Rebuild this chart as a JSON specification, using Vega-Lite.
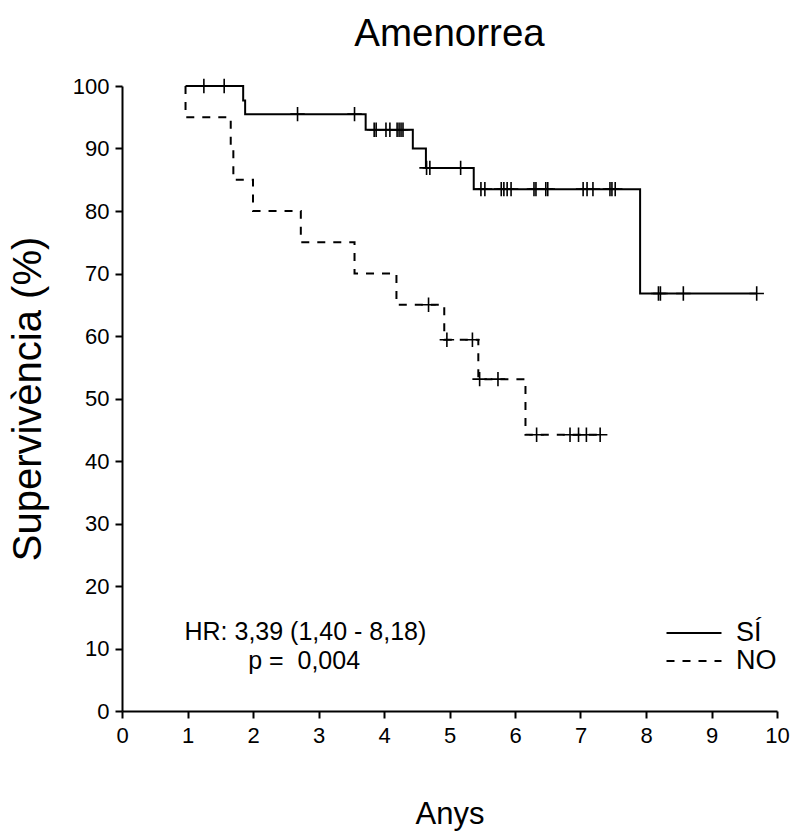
{
  "$schema": "https://vega.github.io/schema/vega-lite/v6.json",
  "autosize": "none",
  "width": 655,
  "height": 625,
  "padding": {"left": 122, "top": 86, "right": 20, "bottom": 121},
  "background": "white",
  "config": {
    "font": "Liberation Sans",
    "view": {"stroke": null},
    "axis": {"grid": false, "labelFlush": false, "domainColor": "black", "domainWidth": 2, "tickColor": "black", "tickWidth": 2, "tickSize": 7, "labelColor": "black", "labelFontSize": 22, "titleColor": "black", "titleFontWeight": "normal", "labelFont": "Liberation Sans", "titleFont": "Liberation Sans"}
  },
  "title": {"text": "Amenorrea", "fontSize": 38.5, "fontWeight": "normal", "color": "black", "offset": 21, "font": "Liberation Sans"},
  "datasets": {
    "curves": [
      {"g": "SÍ", "t": 0.97, "s": 100},
      {"g": "SÍ", "t": 1.85, "s": 97.7},
      {"g": "SÍ", "t": 1.88, "s": 95.5},
      {"g": "SÍ", "t": 3.72, "s": 93.0},
      {"g": "SÍ", "t": 4.44, "s": 90.0},
      {"g": "SÍ", "t": 4.64, "s": 86.9},
      {"g": "SÍ", "t": 5.37, "s": 83.5},
      {"g": "SÍ", "t": 7.91, "s": 66.8},
      {"g": "SÍ", "t": 9.69, "s": 66.8},
      {"g": "NO", "t": 0.97, "s": 100},
      {"g": "NO", "t": 0.97, "s": 95},
      {"g": "NO", "t": 1.66, "s": 90},
      {"g": "NO", "t": 1.70, "s": 85},
      {"g": "NO", "t": 2.00, "s": 80},
      {"g": "NO", "t": 2.73, "s": 75},
      {"g": "NO", "t": 3.55, "s": 70},
      {"g": "NO", "t": 4.19, "s": 65},
      {"g": "NO", "t": 4.92, "s": 59.4},
      {"g": "NO", "t": 5.44, "s": 53.1},
      {"g": "NO", "t": 6.16, "s": 44.2},
      {"g": "NO", "t": 7.32, "s": 44.2}
    ],
    "censored": [
      {"g": "SÍ", "t": 1.25, "s": 100},
      {"g": "SÍ", "t": 1.56, "s": 100},
      {"g": "SÍ", "t": 2.68, "s": 95.5},
      {"g": "SÍ", "t": 3.55, "s": 95.5},
      {"g": "SÍ", "t": 3.85, "s": 93.0},
      {"g": "SÍ", "t": 3.88, "s": 93.0},
      {"g": "SÍ", "t": 4.03, "s": 93.0},
      {"g": "SÍ", "t": 4.09, "s": 93.0},
      {"g": "SÍ", "t": 4.20, "s": 93.0},
      {"g": "SÍ", "t": 4.23, "s": 93.0},
      {"g": "SÍ", "t": 4.26, "s": 93.0},
      {"g": "SÍ", "t": 4.29, "s": 93.0},
      {"g": "SÍ", "t": 4.65, "s": 86.9},
      {"g": "SÍ", "t": 4.70, "s": 86.9},
      {"g": "SÍ", "t": 5.17, "s": 86.9},
      {"g": "SÍ", "t": 5.48, "s": 83.5},
      {"g": "SÍ", "t": 5.54, "s": 83.5},
      {"g": "SÍ", "t": 5.79, "s": 83.5},
      {"g": "SÍ", "t": 5.83, "s": 83.5},
      {"g": "SÍ", "t": 5.88, "s": 83.5},
      {"g": "SÍ", "t": 5.94, "s": 83.5},
      {"g": "SÍ", "t": 6.29, "s": 83.5},
      {"g": "SÍ", "t": 6.32, "s": 83.5},
      {"g": "SÍ", "t": 6.47, "s": 83.5},
      {"g": "SÍ", "t": 6.50, "s": 83.5},
      {"g": "SÍ", "t": 7.04, "s": 83.5},
      {"g": "SÍ", "t": 7.10, "s": 83.5},
      {"g": "SÍ", "t": 7.19, "s": 83.5},
      {"g": "SÍ", "t": 7.45, "s": 83.5},
      {"g": "SÍ", "t": 7.48, "s": 83.5},
      {"g": "SÍ", "t": 7.53, "s": 83.5},
      {"g": "SÍ", "t": 8.19, "s": 66.8},
      {"g": "SÍ", "t": 8.22, "s": 66.8},
      {"g": "SÍ", "t": 8.57, "s": 66.8},
      {"g": "SÍ", "t": 9.69, "s": 66.8},
      {"g": "NO", "t": 4.68, "s": 65},
      {"g": "NO", "t": 4.96, "s": 59.4},
      {"g": "NO", "t": 5.35, "s": 59.4},
      {"g": "NO", "t": 5.46, "s": 53.1},
      {"g": "NO", "t": 5.74, "s": 53.1},
      {"g": "NO", "t": 6.33, "s": 44.2},
      {"g": "NO", "t": 6.84, "s": 44.2},
      {"g": "NO", "t": 6.97, "s": 44.2},
      {"g": "NO", "t": 7.09, "s": 44.2},
      {"g": "NO", "t": 7.30, "s": 44.2}
    ]
  },
  "layer": [
    {
      "data": {"name": "curves"},
      "mark": {"type": "line", "interpolate": "step-after", "color": "black", "strokeWidth": 2},
      "encoding": {
        "x": {"field": "t", "type": "quantitative", "scale": {"domain": [0, 10], "nice": false}, "axis": {"values": [0,1,2,3,4,5,6,7,8,9,10], "format": "d", "title": "Anys", "titleFontSize": 31, "titlePadding": 53, "labelPadding": 7}},
        "y": {"field": "s", "type": "quantitative", "scale": {"domain": [0, 100], "nice": false}, "axis": {"values": [0,10,20,30,40,50,60,70,80,90,100], "format": "d", "title": "Supervivència (%)", "titleFontSize": 40, "titlePadding": 24, "labelPadding": 6}},
        "strokeDash": {"field": "g", "type": "nominal", "scale": {"domain": ["SÍ", "NO"], "range": [[1, 0], [8, 8]]},
          "legend": {"title": null, "orient": "none", "legendX": 557, "legendY": 532, "symbolType": "M-2,0L2,0", "symbolSize": 756, "symbolStrokeWidth": 2, "symbolStrokeColor": "black", "labelFontSize": 27, "labelColor": "black", "labelOffset": 27, "rowPadding": 0,
            "encode": {"symbols": {"update": {"strokeDash": [{"test": "datum.value === 'NO'", "value": [5, 4]}, {"value": [1, 0]}]}}}}}
      }
    },
    {
      "data": {"name": "censored"},
      "mark": {"type": "point", "shape": "M-1,0L1,0M0,-1L0,1", "size": 210, "filled": false, "stroke": "black", "strokeWidth": 1.6, "opacity": 1},
      "encoding": {
        "x": {"field": "t", "type": "quantitative"},
        "y": {"field": "s", "type": "quantitative"}
      }
    },
    {
      "data": {"values": [{}]},
      "mark": {"type": "text", "fontSize": 25, "color": "black", "align": "center", "baseline": "alphabetic"},
      "encoding": {"x": {"datum": 2.8}, "y": {"datum": 11.4}, "text": {"value": "HR: 3,39 (1,40 - 8,18)"}}
    },
    {
      "data": {"values": [{}]},
      "mark": {"type": "text", "fontSize": 25, "color": "black", "align": "center", "baseline": "alphabetic"},
      "encoding": {"x": {"datum": 2.78}, "y": {"datum": 6.7}, "text": {"value": "p = \u00a00,004"}}
    }
  ]
}
